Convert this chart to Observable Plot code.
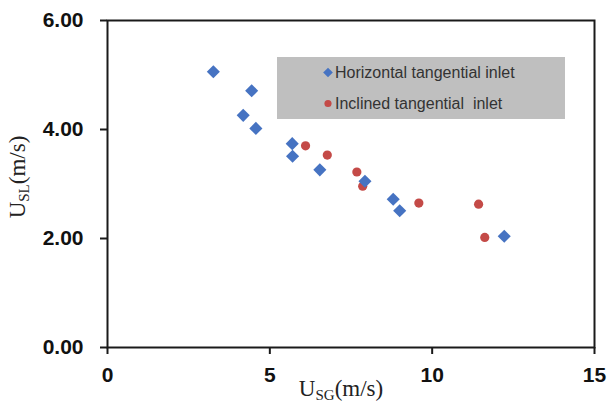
<!DOCTYPE html>
<html>
<head>
<meta charset="utf-8">
<script src="https://cdn.jsdelivr.net/npm/d3@7"></script>
<script src="https://cdn.jsdelivr.net/npm/@observablehq/plot@0.6"></script>
<style>
  html, body { margin: 0; padding: 0; background: #fff; }
  #chart svg { display: block; }
</style>
</head>
<body>
<div id="chart"></div>
<script>
// ---- data ----
const seriesNames = ["Horizontal tangential inlet", "Inclined tangential  inlet"];
const horizX = [3.26, 4.44, 4.18, 4.57, 5.69, 5.70, 6.54, 7.93, 8.80, 9.00, 12.22];
const horizY = [5.06, 4.71, 4.26, 4.02, 3.74, 3.51, 3.26, 3.05, 2.72, 2.51, 2.04];
const inclX = [6.10, 6.77, 7.68, 7.86, 9.59, 11.43, 11.62];
const inclY = [3.70, 3.53, 3.22, 2.96, 2.65, 2.63, 2.02];
const xTicks = [0, 5, 10, 15];
const yTicks = [0, 2, 4, 6];
const xTitle = {main: "U", sub: "SG", tail: "(m/s)"};
const yTitle = {main: "U", sub: "SL", tail: "(m/s)"};

const blue = "#4673c2";
const red = "#c44a47";

const horiz = horizX.map((x, i) => ({x, y: horizY[i]}));
const incl = inclX.map((x, i) => ({x, y: inclY[i]}));

const tickFont = {fontFamily: "Liberation Sans, Arial, sans-serif", fontSize: 21, fontWeight: "bold"};

const plot = Plot.plot({
  width: 610,
  height: 405,
  marginLeft: 107,
  marginRight: 16,
  marginTop: 20,
  marginBottom: 58,
  x: {domain: [0, 15]},
  y: {domain: [0, 6]},
  style: {background: "#fff", color: "#111"},
  marks: [
    Plot.frame({stroke: "#1a1a1a", strokeWidth: 2}),
    Plot.axisX({ticks: xTicks, tickSize: 7, tickPadding: 13, label: null, strokeWidth: 2, stroke: "#1a1a1a", ...tickFont, fill: "#111"}),
    Plot.axisY({ticks: yTicks, tickSize: 7, tickPadding: 17, label: null, tickFormat: d3.format(".2f"), strokeWidth: 2, stroke: "#1a1a1a", ...tickFont, fill: "#111"}),
    Plot.dot(incl, {x: "x", y: "y", r: 4.6, fill: red, stroke: null, symbol: "circle"}),
    Plot.dot(horiz, {x: "x", y: "y", r: 5.9, fill: blue, stroke: null, symbol: "diamond2"})
  ]
});

document.getElementById("chart").appendChild(plot);

const svg = d3.select(plot);

// legend box
const lg = svg.append("g").attr("class", "legend").attr("text-anchor", "start");
lg.append("rect").attr("x", 277).attr("y", 57).attr("width", 288).attr("height", 62).attr("fill", "#bfbfbf");
const rows = [
  {name: seriesNames[0], color: blue, sym: d3.symbolDiamond2, size: 60, cy: 72.5},
  {name: seriesNames[1], color: red, sym: d3.symbolCircle, size: 40, cy: 103.5}
];
rows.forEach(r => {
  lg.append("path").attr("d", d3.symbol(r.sym, r.size)()).attr("transform", `translate(328,${r.cy})`).attr("fill", r.color);
  lg.append("text").attr("x", 335).attr("y", r.cy).attr("dy", "0.36em")
    .attr("text-anchor", "start")
    .attr("xml:space", "preserve").style("white-space", "pre")
    .attr("font-family", "Liberation Sans, Arial, sans-serif").attr("font-size", 16).attr("fill", "#333")
    .text(r.name);
});

// axis titles with subscripts
function title(g, t) {
  const txt = g.append("text").attr("font-family", "Liberation Serif, Times New Roman, serif").attr("font-size", 23).attr("fill", "#222").attr("text-anchor", "middle");
  txt.append("tspan").text(t.main);
  txt.append("tspan").attr("font-size", 15).attr("dy", 4).text(t.sub);
  txt.append("tspan").attr("dy", -4).text(t.tail);
  return txt;
}
title(svg.append("g").attr("transform", "translate(341,396)"), xTitle);
title(svg.append("g").attr("transform", "translate(25,177) rotate(-90)"), yTitle);
</script>
</body>
</html>
